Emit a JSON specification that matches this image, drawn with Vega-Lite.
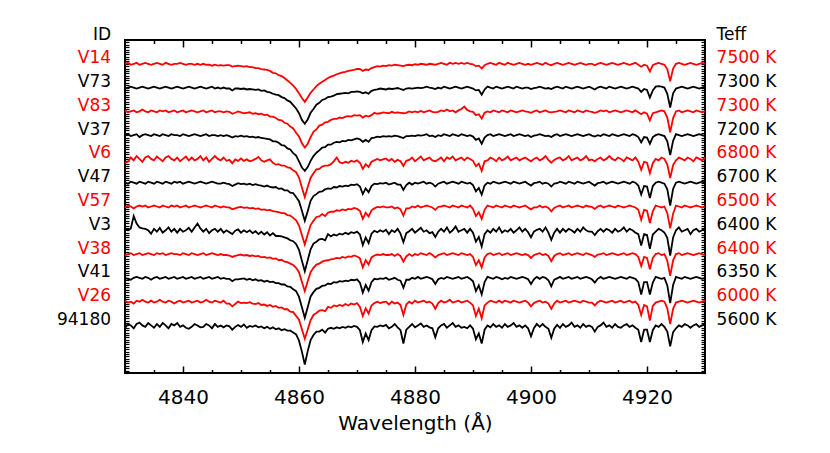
{
"$schema": "https://vega.github.io/schema/vega-lite/v6.json",
"width": 580,
"height": 333,
"autosize": {"type": "none"},
"padding": {"left": 125, "top": 40, "right": 125, "bottom": 80},
"background": "white",
"config": {"view": {"stroke": "#000000", "strokeWidth": 2}, "font": "DejaVu Sans"},
"data": {
"values": "w,V14,V73,V83,V37,V6,V47,V57,V3,V38,V41,V26,s94180\n4830,100,98,102,100,92,100,98,103,98,100,102,94\n4830.5,102,100,98,102,94,98,102,100,100,98,98,103\n4831,98,102,100,98,103,102,100,104,102,96,100,100\n4831.5,100,100,102,100,97,100,96,130,98,100,96,94\n4832,102,98,98,102,106,98,100,114,100,102,102,103\n4832.5,98,100,100,96,100,102,102,106,102,100,100,106\n4833,100,102,104,100,94,100,100,104,98,98,104,100\n4833.5,102,100,100,102,103,98,102,103,100,102,100,97\n4834,100,98,98,100,106,102,98,100,102,100,98,105\n4834.5,98,100,102,98,100,100,100,93,100,96,102,100\n4835,100,102,100,102,97,98,102,103,98,100,98,95\n4835.5,102,100,98,100,105,102,100,97,102,102,100,103\n4836,100,98,102,98,100,100,98,105,100,98,104,97\n4836.5,98,100,100,102,95,98,102,95,102,100,100,105\n4837,102,102,102,100,103,102,100,100,98,102,98,100\n4837.5,100,100,98,98,106,100,98,106,100,98,102,94\n4838,98,98,100,102,100,98,102,97,102,100,100,103\n4838.5,100,100,102,100,97,102,100,103,100,102,96,100\n4839,100,102,98,100,103,100,102,95,100,98,100,105\n4839.5,102,100,100,98,95,102,98,103,98,100,102,97\n4840,100,98,102,102,100,98,100,97,102,102,98,100\n4840.5,98,100,98,100,105,100,102,100,100,98,100,95\n4841,100,102,100,98,97,102,98,105,98,100,102,93\n4841.5,100,100,102,100,103,100,100,97,102,102,98,97\n4842,98,98,100,102,97,98,102,106,100,98,100,103\n4842.5,100,100,98,100,100,100,100,114,98,100,102,100\n4843,98,102,100,98,106,102,98,104,100,102,98,96\n4843.5,100,100,102,100,97,100,100,97,102,98,100,97\n4844,98,98,98,102,103,98,102,103,98,100,104,103\n4844.5,98,100,100,98,94,100,100,94,100,102,100,100\n4845,96,102,102,100,100,102,98,100,102,98,98,94\n4845.5,98,98,98,100,106,100,102,103,100,100,102,103\n4846,96,100,100,98,100,98,100,97,98,102,100,97\n4846.5,97,98,100,100,97,98,98,103,100,98,98,100\n4847,96,100,98,98,103,100,100,95,98,100,102,96\n4847.5,97,98,100,100,96,98,98,100,98,98,96,100\n4848,97,98,99,98,98,97,98,96,97,98,96,98\n4848.5,94,94,95,95,91,93,94,92,94,93,90,91\n4849,95,98,97,98,99,96,96,99,96,97,95,97\n4849.5,96,98,100,97,96,99,98,102,98,97,100,101\n4850,95,97,98,99,101,97,99,95,99,98,97,97\n4850.5,94,98,96,97,96,98,97,100,97,99,98,102\n4851,95,96,97,98,99,96,98,96,98,96,97,95\n4851.5,93,97,98,96,95,98,96,100,96,98,99,99\n4852,93,96,95,97,97,95,97,94,97,95,96,97\n4852.5,91,95,96,95,100,97,95,98,95,97,95,100\n4853,91,96,94,96,104,95,96,92,96,94,97,96\n4853.5,89,93,95,94,97,94,93,97,93,95,93,98\n4854,88,94,92,93,94,92,94,91,94,92,94,94\n4854.5,87,91,93,92,97,94,92,96,92,94,91,97\n4855,85,90,89,91,99,91,93,89,93,91,93,93\n4855.5,81,87,89,87,92,90,90,94,90,92,89,96\n4856,80,85,86,87,88,91,89,88,91,89,91,92\n4856.5,76,84,82,84,89,87,88,88,87,89,87,94\n4857,74,80,81,79,86,88,86,87,88,86,88,90\n4857.5,70,78,76,78,86,84,86,85,84,86,84,92\n4858,65,73,74,72,82,84,82,83,83,82,84,89\n4858.5,60,70,68,70,81,79,81,79,80,81,79,89\n4859,54,63,64,62,76,78,76,77,77,76,78,85\n4859.5,47,56,55,57,72,70,71,71,71,72,70,81\n4860,38,46,47,45,61,61,60,59,62,60,62,68\n4860.5,28,32,33,32,40,41,40,36,42,38,42,45\n4861,20,24,24,25,20,20,20,14,22,16,22,18\n4861.5,29,33,32,33,41,40,41,37,43,38,41,46\n4862,39,47,46,46,60,62,61,60,62,61,61,69\n4862.5,46,55,57,56,70,72,70,72,71,70,72,80\n4863,53,64,62,63,78,76,78,76,78,77,76,87\n4863.5,58,68,70,68,79,81,79,81,80,79,81,87\n4864,62,74,72,74,84,82,84,82,84,83,82,91\n4864.5,66,76,77,75,86,86,80,79,86,84,80,85\n4865,70,80,78,80,86,88,87,92,87,88,89,93\n4865.5,73,81,82,80,89,87,89,87,89,87,87,95\n4866,75,83,84,84,95,91,89,91,90,91,92,93\n4866.5,78,86,84,86,103,90,92,89,92,90,90,96\n4867,80,87,87,85,93,93,91,93,91,93,93,94\n4867.5,82,88,86,88,91,92,94,91,94,92,91,97\n4868,83,89,89,87,94,94,92,95,92,94,95,95\n4868.5,85,88,90,90,92,93,95,92,95,93,92,98\n4869,86,91,89,89,96,96,94,96,94,96,96,96\n4869.5,87,91,92,91,94,95,97,94,97,95,94,99\n4870,89,92,91,93,97,97,95,97,95,97,97,97\n4870.5,89,91,92,91,92,92,91,91,91,90,89,90\n4871,85,88,87,86,79,76,74,69,72,69,70,65\n4871.5,88,90,91,90,89,88,87,85,87,85,86,83\n4872,87,87,89,86,83,80,79,73,78,73,75,69\n4872.5,91,93,92,94,94,93,92,93,93,91,92,90\n4873,93,95,97,95,97,98,96,99,97,98,97,98\n4873.5,95,96,95,97,100,97,99,96,99,97,100,97\n4874,94,98,96,96,97,99,98,100,98,99,97,100\n4874.5,96,97,98,98,99,98,100,97,100,98,99,98\n4875,95,96,97,97,101,100,98,101,98,100,100,101\n4875.5,97,98,96,98,96,96,98,92,98,96,94,94\n4876,96,97,99,97,100,98,100,100,100,98,100,97\n4876.5,98,98,97,99,94,100,96,96,96,100,96,103\n4877,97,99,98,98,98,96,98,103,100,96,98,96\n4877.5,96,97,97,96,95,96,94,93,96,94,93,90\n4878,95,95,96,94,85,85,81,75,84,79,72,62\n4878.5,97,98,97,98,96,95,96,94,95,96,94,91\n4879,98,99,100,98,98,100,96,98,100,96,100,97\n4879.5,97,98,98,99,103,96,100,103,96,100,96,103\n4880,99,99,100,98,95,100,98,95,100,98,102,96\n4880.5,98,100,98,100,100,98,102,100,98,102,98,100\n4881,100,99,101,99,105,100,98,105,102,98,100,104\n4881.5,99,100,98,100,97,102,100,97,100,100,102,97\n4882,98,102,100,102,100,98,102,100,98,102,98,100\n4882.5,100,100,102,98,103,100,100,94,102,100,100,96\n4883,99,99,99,99,97,98,98,96,98,97,96,94\n4883.5,98,97,98,96,95,92,93,86,93,87,85,75\n4884,100,100,99,100,99,98,99,97,98,97,97,94\n4884.5,102,98,102,98,103,100,100,103,100,100,102,100\n4885,100,102,100,102,95,102,102,97,102,98,98,103\n4885.5,98,100,104,100,103,98,100,106,98,102,100,95\n4886,102,98,100,98,100,100,98,95,100,100,104,100\n4886.5,100,100,102,102,105,102,102,100,102,98,98,105\n4887,102,102,98,100,97,100,100,108,100,100,100,97\n4887.5,100,100,102,98,100,98,98,97,98,102,102,100\n4888,102,98,105,102,103,102,102,100,102,98,98,95\n4888.5,100,100,110,100,97,100,100,103,100,100,100,97\n4889,102,102,103,98,103,98,98,95,98,102,102,94\n4889.5,100,100,100,100,100,100,102,103,100,98,98,100\n4890,99,98,99,97,96,95,95,95,94,93,92,93\n4890.5,95,94,92,90,85,82,80,76,77,72,70,71\n4891,96,95,94,93,90,89,88,86,87,84,85,83\n4891.5,90,85,85,82,75,75,74,66,72,65,65,62\n4892,97,96,97,95,95,94,93,92,93,91,92,91\n4892.5,100,102,100,100,97,100,102,100,100,102,98,100\n4893,102,100,98,102,103,98,100,95,102,100,102,96\n4893.5,100,98,102,98,100,102,98,103,98,98,100,103\n4894,98,102,100,100,95,100,102,97,100,102,98,97\n4894.5,102,100,98,102,103,98,100,106,102,100,102,100\n4895,100,98,102,100,97,100,98,95,98,97,98,95\n4895.5,98,100,100,98,100,102,102,100,100,100,102,103\n4896,102,102,98,100,105,100,100,97,102,98,100,97\n4896.5,100,100,102,102,97,98,98,103,98,102,98,100\n4897,98,98,100,98,100,102,102,95,100,100,102,105\n4897.5,100,102,98,100,103,100,100,100,102,98,100,97\n4898,102,100,100,102,97,98,98,106,100,100,98,100\n4898.5,100,98,102,100,100,100,100,97,98,102,100,95\n4899,98,100,100,98,103,102,102,103,100,100,102,100\n4899.5,100,100,99,100,99,98,98,96,98,97,98,94\n4900,98,97,97,96,95,94,94,85,92,87,90,77\n4900.5,100,99,100,99,100,99,98,97,98,97,97,94\n4901,102,100,102,100,103,100,98,101,100,102,100,103\n4901.5,100,102,98,102,97,102,102,103,102,98,102,97\n4902,98,100,100,100,100,98,98,97,98,102,98,103\n4902.5,102,98,102,98,106,100,100,106,100,100,100,97\n4903,99,99,99,99,98,98,97,95,96,95,96,93\n4903.5,97,97,98,96,92,92,90,80,85,82,85,74\n4904,100,100,99,100,98,98,97,95,96,96,96,93\n4904.5,102,102,100,102,101,99,100,103,100,99,102,101\n4905,100,100,102,98,103,102,102,95,102,102,98,95\n4905.5,98,98,100,100,97,100,98,103,98,98,100,103\n4906,100,102,98,102,100,98,100,97,100,100,102,97\n4906.5,102,100,102,100,106,102,102,103,102,102,98,100\n4907,100,98,100,98,97,100,98,100,98,98,100,106\n4907.5,98,100,98,100,100,98,100,95,100,100,102,97\n4908,100,102,102,102,103,102,102,103,102,102,100,100\n4908.5,102,100,100,100,97,100,100,97,100,98,98,95\n4909,100,98,98,98,100,98,98,106,98,100,102,103\n4909.5,98,100,102,100,106,100,102,100,102,102,100,97\n4910,100,102,100,102,97,102,100,97,100,100,98,100\n4910.5,100,99,99,99,99,98,99,97,98,97,98,97\n4911,97,96,97,97,95,94,95,90,94,90,92,87\n4911.5,100,100,99,100,100,99,100,98,99,98,99,97\n4912,102,102,102,98,103,100,102,103,100,102,102,100\n4912.5,100,100,100,102,97,102,98,97,102,98,100,106\n4913,98,98,102,100,100,98,100,103,98,100,98,97\n4913.5,100,102,98,98,106,100,102,100,100,102,100,100\n4914,102,100,100,102,100,102,100,95,102,100,102,95\n4914.5,100,98,102,100,97,100,98,103,100,98,98,103\n4915,98,100,100,98,103,98,102,97,98,100,100,97\n4915.5,100,102,98,100,100,100,100,100,100,102,102,95\n4916,102,100,100,102,95,102,98,106,102,100,98,100\n4916.5,100,98,102,100,103,100,100,97,98,98,100,103\n4917,98,100,100,98,100,98,102,103,100,102,102,97\n4917.5,100,102,98,102,97,102,100,100,102,100,98,100\n4918,102,100,102,100,103,100,98,95,100,98,100,95\n4918.5,98,98,98,96,94,94,93,92,94,91,93,91\n4919,94,91,94,85,77,75,72,68,75,65,72,65\n4919.5,98,97,98,96,94,93,93,92,94,91,93,91\n4920,96,95,95,95,92,92,91,90,92,91,90,91\n4920.5,84,79,81,82,70,68,65,61,68,65,60,65\n4921,97,94,96,96,91,93,90,91,92,90,91,90\n4921.5,100,102,98,100,100,100,102,97,100,102,98,100\n4922,102,103,100,102,97,102,100,103,102,100,100,97\n4922.5,100,102,102,100,103,100,98,100,98,98,102,103\n4923,98,100,100,98,100,98,100,95,100,100,100,97\n4923.5,89,87,87,87,88,86,86,84,86,84,86,87\n4924,63,58,56,58,60,52,54,47,54,47,53,56\n4924.5,90,88,86,88,87,87,85,85,87,85,85,86\n4925,100,98,100,102,97,100,102,100,100,102,98,94\n4925.5,102,100,102,100,103,102,100,106,102,100,100,100\n4926,100,102,98,98,100,100,98,97,98,98,102,97\n4926.5,98,100,100,100,97,98,102,100,100,102,100,103\n4927,100,98,102,102,103,100,100,103,102,100,98,100\n4927.5,102,100,100,100,100,102,98,92,100,98,100,95\n4928,100,102,98,98,95,100,100,100,98,100,102,100\n4928.5,98,100,102,100,103,98,102,103,100,102,100,103\n4929,100,98,100,102,100,100,100,97,102,100,98,97\n4929.5,102,100,98,100,97,102,98,100,100,98,100,100\n4930,100,102,100,98,103,100,100,103,98,100,102,103",
"format": {"type": "csv", "parse": {"w": "number", "V14": "number", "V73": "number", "V83": "number", "V37": "number", "V6": "number", "V47": "number", "V57": "number", "V3": "number", "V38": "number", "V41": "number", "V26": "number", "s94180": "number"}}
},
"datasets": {
"labels": [
{"id": "ID", "teff": "Teff", "k": 14, "row": "head"},
{"id": "V14", "teff": "7500 K", "k": 13, "row": "odd"},
{"id": "V73", "teff": "7300 K", "k": 12, "row": "even"},
{"id": "V83", "teff": "7300 K", "k": 11, "row": "odd"},
{"id": "V37", "teff": "7200 K", "k": 10, "row": "even"},
{"id": "V6", "teff": "6800 K", "k": 9, "row": "odd"},
{"id": "V47", "teff": "6700 K", "k": 8, "row": "even"},
{"id": "V57", "teff": "6500 K", "k": 7, "row": "odd"},
{"id": "V3", "teff": "6400 K", "k": 6, "row": "even"},
{"id": "V38", "teff": "6400 K", "k": 5, "row": "odd"},
{"id": "V41", "teff": "6350 K", "k": 4, "row": "even"},
{"id": "V26", "teff": "6000 K", "k": 3, "row": "odd"},
{"id": "94180", "teff": "5600 K", "k": 2, "row": "even"}
]
},
"resolve": {"scale": {"y": "independent"}, "axis": {"x": "independent", "y": "independent"}},
"layer": [
{"mark": {"type": "line", "color": "#ff0000", "strokeWidth": 1.8},
 "encoding": {
  "x": {"field": "w", "type": "quantitative", "scale": {"domain": [4830, 4930], "nice": false},
   "axis": {"orient": "bottom", "values": [4835,4840,4845,4850,4855,4860,4865,4870,4875,4880,4885,4890,4895,4900,4905,4910,4915,4920,4925],
    "format": "d", "domain": false, "grid": false, "tickColor": "#000000", "tickWidth": 1.5,
    "tickSize": {"condition": {"test": "datum.value % 20 === 0", "value": -7}, "value": -3.5},
    "labelExpr": "datum.value % 20 === 0 ? datum.label : ''",
    "labelFont": "DejaVu Sans", "labelFontSize": 20, "labelColor": "#000000", "labelPadding": 21, "labelFlush": false, "labelOverlap": false, "labelBound": false,
    "title": "Wavelength (Å)", "titleFont": "DejaVu Sans", "titleFontSize": 20, "titleFontWeight": "normal", "titleColor": "#000000", "titlePadding": 3}},
  "y": {"field": "V14", "type": "quantitative", "scale": {"domain": [-550, 150], "nice": false, "zero": false}, "axis": null}}},
{"mark": {"type": "line", "color": "#000000", "strokeWidth": 1.8},
 "encoding": {
  "x": {"field": "w", "type": "quantitative", "scale": {"domain": [4830, 4930], "nice": false},
   "axis": {"orient": "top", "values": [4835,4840,4845,4850,4855,4860,4865,4870,4875,4880,4885,4890,4895,4900,4905,4910,4915,4920,4925],
    "domain": false, "grid": false, "labels": false, "title": null, "tickColor": "#000000", "tickWidth": 1.5,
    "tickSize": {"condition": {"test": "datum.value % 20 === 0", "value": -7}, "value": -3.5}}},
  "y": {"field": "V73", "type": "quantitative", "scale": {"domain": [-500, 200], "nice": false, "zero": false}, "axis": null}}},
{"mark": {"type": "line", "color": "#ff0000", "strokeWidth": 1.8},
 "encoding": {"x": {"field": "w", "type": "quantitative", "scale": {"domain": [4830, 4930], "nice": false}, "axis": null},
  "y": {"field": "V83", "type": "quantitative", "scale": {"domain": [-450, 250], "nice": false, "zero": false}, "axis": null}}},
{"mark": {"type": "line", "color": "#000000", "strokeWidth": 1.8},
 "encoding": {"x": {"field": "w", "type": "quantitative", "scale": {"domain": [4830, 4930], "nice": false}, "axis": null},
  "y": {"field": "V37", "type": "quantitative", "scale": {"domain": [-400, 300], "nice": false, "zero": false}, "axis": null}}},
{"mark": {"type": "line", "color": "#ff0000", "strokeWidth": 1.8},
 "encoding": {"x": {"field": "w", "type": "quantitative", "scale": {"domain": [4830, 4930], "nice": false}, "axis": null},
  "y": {"field": "V6", "type": "quantitative", "scale": {"domain": [-350, 350], "nice": false, "zero": false}, "axis": null}}},
{"mark": {"type": "line", "color": "#000000", "strokeWidth": 1.8},
 "encoding": {"x": {"field": "w", "type": "quantitative", "scale": {"domain": [4830, 4930], "nice": false}, "axis": null},
  "y": {"field": "V47", "type": "quantitative", "scale": {"domain": [-300, 400], "nice": false, "zero": false}, "axis": null}}},
{"mark": {"type": "line", "color": "#ff0000", "strokeWidth": 1.8},
 "encoding": {"x": {"field": "w", "type": "quantitative", "scale": {"domain": [4830, 4930], "nice": false}, "axis": null},
  "y": {"field": "V57", "type": "quantitative", "scale": {"domain": [-250, 450], "nice": false, "zero": false}, "axis": null}}},
{"mark": {"type": "line", "color": "#000000", "strokeWidth": 1.8},
 "encoding": {"x": {"field": "w", "type": "quantitative", "scale": {"domain": [4830, 4930], "nice": false}, "axis": null},
  "y": {"field": "V3", "type": "quantitative", "scale": {"domain": [-200, 500], "nice": false, "zero": false}, "axis": null}}},
{"mark": {"type": "line", "color": "#ff0000", "strokeWidth": 1.8},
 "encoding": {"x": {"field": "w", "type": "quantitative", "scale": {"domain": [4830, 4930], "nice": false}, "axis": null},
  "y": {"field": "V38", "type": "quantitative", "scale": {"domain": [-150, 550], "nice": false, "zero": false}, "axis": null}}},
{"mark": {"type": "line", "color": "#000000", "strokeWidth": 1.8},
 "encoding": {"x": {"field": "w", "type": "quantitative", "scale": {"domain": [4830, 4930], "nice": false}, "axis": null},
  "y": {"field": "V41", "type": "quantitative", "scale": {"domain": [-100, 600], "nice": false, "zero": false}, "axis": null}}},
{"mark": {"type": "line", "color": "#ff0000", "strokeWidth": 1.8},
 "encoding": {"x": {"field": "w", "type": "quantitative", "scale": {"domain": [4830, 4930], "nice": false}, "axis": null},
  "y": {"field": "V26", "type": "quantitative", "scale": {"domain": [-50, 650], "nice": false, "zero": false}, "axis": null}}},
{"mark": {"type": "line", "color": "#000000", "strokeWidth": 1.8},
 "encoding": {"x": {"field": "w", "type": "quantitative", "scale": {"domain": [4830, 4930], "nice": false}, "axis": null},
  "y": {"field": "s94180", "type": "quantitative", "scale": {"domain": [0, 700], "nice": false, "zero": false}, "axis": null}}},
{"data": {"name": "labels"},
 "mark": {"type": "text", "align": "right", "baseline": "middle", "dy": -5.5, "font": "DejaVu Sans", "fontSize": 17},
 "encoding": {
  "x": {"datum": 4827.6, "type": "quantitative", "axis": null},
  "y": {"field": "k", "type": "quantitative", "scale": {"domain": [0, 14], "nice": false, "zero": false},
   "axis": {"orient": "left", "tickCount": 112, "domain": false, "grid": false, "labels": false, "title": null, "tickColor": "#000000", "tickWidth": 1.2, "tickSize": -4}},
  "text": {"field": "id"},
  "color": {"field": "row", "type": "nominal", "scale": {"domain": ["head", "odd", "even"], "range": ["#000000", "#ff0000", "#000000"]}, "legend": null}}},
{"data": {"name": "labels"},
 "mark": {"type": "text", "align": "left", "baseline": "middle", "dy": -5.5, "font": "DejaVu Sans", "fontSize": 17},
 "encoding": {
  "x": {"datum": 4932, "type": "quantitative", "axis": null},
  "y": {"field": "k", "type": "quantitative", "scale": {"domain": [0, 14], "nice": false, "zero": false},
   "axis": {"orient": "right", "tickCount": 112, "domain": false, "grid": false, "labels": false, "title": null, "tickColor": "#000000", "tickWidth": 1.2, "tickSize": -4}},
  "text": {"field": "teff"},
  "color": {"field": "row", "type": "nominal", "scale": {"domain": ["head", "odd", "even"], "range": ["#000000", "#ff0000", "#000000"]}, "legend": null}}}
]
}
